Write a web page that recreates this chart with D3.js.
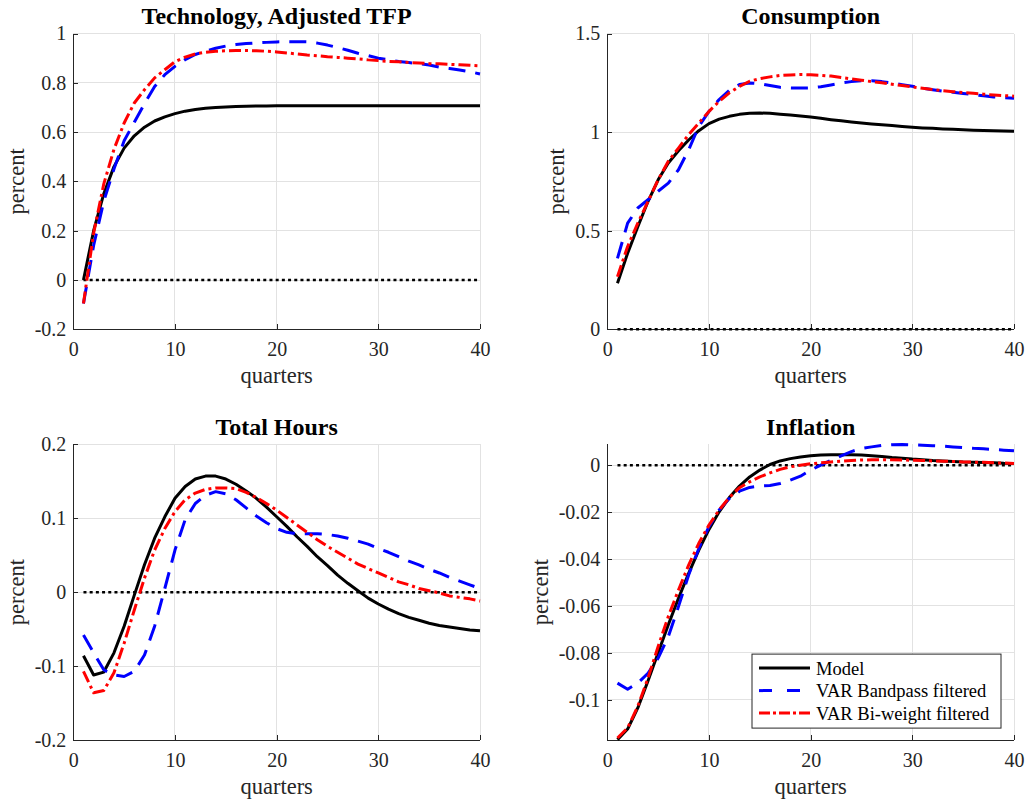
<!DOCTYPE html>
<html>
<head>
<meta charset="utf-8">
<script src="https://cdn.jsdelivr.net/npm/d3@7"></script>
<style>
  body { margin: 0; background: #fff; }
  svg { display: block; font-family: "Liberation Serif", "Times New Roman", serif; }
  .grid line { stroke: #e2e2e2; stroke-width: 1; shape-rendering: crispEdges; }
  .axis path, .axis line { stroke: #262626; stroke-width: 1; shape-rendering: crispEdges; }
  .axis text { fill: #262626; font-size: 20px; font-family: "Liberation Serif", "Times New Roman", serif; }
  .title { font-size: 24px; font-weight: bold; fill: #000; }
  .label { font-size: 22.5px; fill: #262626; }
  .zero { stroke: #000; stroke-width: 2.5; stroke-dasharray: 3, 3.2; fill: none; }
  .series { fill: none; stroke-width: 3; stroke-linejoin: round; }
  .legend text { font-size: 18.5px; fill: #000; }
</style>
</head>
<body>
<svg width="1028" height="803"></svg>
<script>
// quarters after the shock
const quarters = d3.range(1, 41);

// Technology, Adjusted TFP
const techModel = [0.0, 0.20, 0.35, 0.46, 0.535, 0.585, 0.62, 0.645, 0.662, 0.675,
  0.685, 0.692, 0.697, 0.700, 0.702, 0.704, 0.705, 0.706, 0.706, 0.707,
  0.707, 0.707, 0.707, 0.707, 0.707, 0.707, 0.707, 0.707, 0.707, 0.707,
  0.707, 0.707, 0.707, 0.707, 0.707, 0.707, 0.707, 0.707, 0.707, 0.707];
const techBandpass = [-0.095, 0.14, 0.32, 0.45, 0.565, 0.64, 0.715, 0.785, 0.833, 0.867,
  0.894, 0.915, 0.928, 0.94, 0.949, 0.955, 0.959, 0.962, 0.964, 0.966,
  0.967, 0.967, 0.966, 0.961, 0.953, 0.943, 0.932, 0.92, 0.91, 0.90,
  0.893, 0.886, 0.882, 0.878, 0.872, 0.864, 0.858, 0.852, 0.845, 0.836];
const techBiweight = [-0.095, 0.19, 0.39, 0.53, 0.637, 0.718, 0.772, 0.82, 0.853, 0.886,
  0.904, 0.917, 0.924, 0.928, 0.93, 0.931, 0.931, 0.93, 0.928, 0.925,
  0.921, 0.917, 0.913, 0.91, 0.906, 0.903, 0.90, 0.897, 0.893, 0.89,
  0.887, 0.885, 0.882, 0.88, 0.878, 0.877, 0.875, 0.873, 0.871, 0.869];

// Consumption
const consModel = [0.234, 0.386, 0.52, 0.648, 0.758, 0.843, 0.905, 0.96, 1.007, 1.043,
  1.066, 1.08, 1.09, 1.095, 1.097, 1.095, 1.091, 1.087, 1.082, 1.077,
  1.07, 1.063, 1.057, 1.051, 1.046, 1.041, 1.037, 1.033, 1.028, 1.024,
  1.021, 1.019, 1.016, 1.014, 1.012, 1.01, 1.008, 1.007, 1.005, 1.004];
const consBandpass = [0.36, 0.538, 0.615, 0.657, 0.70, 0.741, 0.809, 0.91, 1.029, 1.105,
  1.165, 1.212, 1.241, 1.249, 1.246, 1.236, 1.227, 1.224, 1.223, 1.224,
  1.23, 1.239, 1.249, 1.256, 1.26, 1.26, 1.256, 1.249, 1.24, 1.232,
  1.223, 1.215, 1.208, 1.202, 1.196, 1.19, 1.184, 1.178, 1.175, 1.172];
const consBiweight = [0.267, 0.42, 0.538, 0.648, 0.758, 0.852, 0.919, 0.987, 1.046, 1.105,
  1.156, 1.199, 1.232, 1.258, 1.271, 1.28, 1.287, 1.29, 1.292, 1.291,
  1.288, 1.284, 1.277, 1.27, 1.263, 1.256, 1.25, 1.243, 1.236, 1.229,
  1.222, 1.216, 1.21, 1.205, 1.201, 1.197, 1.192, 1.188, 1.185, 1.182];

// Total Hours
const hoursModel = [-0.086, -0.112, -0.108, -0.082, -0.046, -0.004, 0.037, 0.073, 0.102, 0.127,
  0.143, 0.153, 0.157, 0.157, 0.153, 0.146, 0.137, 0.127, 0.115, 0.102,
  0.089, 0.075, 0.062, 0.048, 0.036, 0.023, 0.012, 0.002, -0.008, -0.016,
  -0.023, -0.029, -0.034, -0.038, -0.042, -0.045, -0.047, -0.049, -0.051, -0.052];
const hoursBandpass = [-0.058, -0.082, -0.105, -0.112, -0.114, -0.107, -0.085, -0.046, 0.005, 0.057,
  0.098, 0.12, 0.131, 0.136, 0.133, 0.125, 0.114, 0.103, 0.094, 0.086,
  0.081, 0.079, 0.079, 0.079, 0.078, 0.076, 0.073, 0.069, 0.065, 0.059,
  0.054, 0.048, 0.042, 0.037, 0.031, 0.026, 0.02, 0.015, 0.01, 0.005];
const hoursBiweight = [-0.107, -0.136, -0.133, -0.109, -0.069, -0.024, 0.019, 0.057, 0.086, 0.109,
  0.125, 0.134, 0.139, 0.141, 0.141, 0.14, 0.135, 0.128, 0.12, 0.111,
  0.101, 0.091, 0.081, 0.071, 0.062, 0.054, 0.046, 0.038, 0.032, 0.026,
  0.02, 0.014, 0.01, 0.005, 0.002, -0.001, -0.005, -0.007, -0.009, -0.012];

// Inflation
const inflModel = [-0.117, -0.1125, -0.1035, -0.092, -0.080, -0.068, -0.0567, -0.0461, -0.0362, -0.0274,
  -0.0199, -0.0138, -0.0089, -0.005, -0.0021, 0.0003, 0.0018, 0.0028, 0.0035, 0.004,
  0.0043, 0.0044, 0.0044, 0.0044, 0.0043, 0.004, 0.0037, 0.0033, 0.003, 0.0026,
  0.0023, 0.002, 0.0018, 0.0016, 0.0014, 0.0013, 0.0011, 0.001, 0.0008, 0.0007];
const inflBandpass = [-0.0929, -0.0955, -0.0929, -0.0887, -0.0823, -0.0731, -0.0603, -0.0468, -0.0355, -0.0262,
  -0.0191, -0.0142, -0.0111, -0.0095, -0.0089, -0.0087, -0.0078, -0.0064, -0.0047, -0.0021,
  0.0, 0.0021, 0.004, 0.0058, 0.0071, 0.0078, 0.0084, 0.0087, 0.0088, 0.0087,
  0.0085, 0.0083, 0.0081, 0.0078, 0.0075, 0.0072, 0.007, 0.0067, 0.0064, 0.0061];
const inflBiweight = [-0.1163, -0.112, -0.1028, -0.0908, -0.0773, -0.0645, -0.0532, -0.0426, -0.0333, -0.0255,
  -0.0191, -0.0138, -0.0096, -0.0071, -0.005, -0.0033, -0.0018, -0.0007, 0.0, 0.0006,
  0.001, 0.0014, 0.0017, 0.002, 0.0022, 0.0023, 0.0023, 0.0023, 0.0022, 0.0021,
  0.002, 0.0018, 0.0017, 0.0016, 0.0014, 0.0013, 0.0012, 0.001, 0.0009, 0.0007];

// axis ticks
const xTicks = [0, 10, 20, 30, 40];
const techTicks = [-0.2, 0, 0.2, 0.4, 0.6, 0.8, 1];
const consTicks = [0, 0.5, 1, 1.5];
const hoursTicks = [-0.2, -0.1, 0, 0.1, 0.2];
const inflTicks = [-0.1, -0.08, -0.06, -0.04, -0.02, 0];

const seriesNames = ["Model", "VAR Bandpass filtered", "VAR Bi-weight filtered"];

// line styles: model, bandpass, bi-weight
const styles = [
  {color: "#000000", dash: null, legendDash: null},
  {color: "#0000ff", dash: "17,10", legendDash: "13,15"},
  {color: "#ff0000", dash: "12,4,3,4", legendDash: "11,3,3,3"}
];

const panels = [
  {title: "Technology, Adjusted TFP", data: [techModel, techBandpass, techBiweight],
    yDomain: [-0.2, 1], yTicks: techTicks, left: 73.3, top: 33.5},
  {title: "Consumption", data: [consModel, consBandpass, consBiweight],
    yDomain: [0, 1.5], yTicks: consTicks, left: 607.3, top: 33.5},
  {title: "Total Hours", data: [hoursModel, hoursBandpass, hoursBiweight],
    yDomain: [-0.2, 0.2], yTicks: hoursTicks, left: 73.3, top: 444.3},
  {title: "Inflation", data: [inflModel, inflBandpass, inflBiweight],
    yDomain: [-0.1172, 0.0089], yTicks: inflTicks, left: 607.3, top: 444.3, legend: true}
];

const svg = d3.select("svg");
const pw = 406.7, ph = 295.8;
const fmt = d => String(+d.toFixed(3));

svg.append("rect").attr("width", 1028).attr("height", 803).attr("fill", "#fff");

panels.forEach(function(p) {
  const g = svg.append("g").attr("transform", `translate(${p.left},${p.top})`);
  const x = d3.scaleLinear().domain([0, 40]).range([0, pw]);
  const y = d3.scaleLinear().domain(p.yDomain).range([ph, 0]);

  // grid
  const grid = g.append("g").attr("class", "grid");
  grid.selectAll("line.gx").data(xTicks).enter().append("line")
    .attr("x1", d => x(d)).attr("x2", d => x(d))
    .attr("y1", 0).attr("y2", ph);
  grid.selectAll("line.gy").data(p.yTicks).enter().append("line")
    .attr("x1", 0).attr("x2", pw)
    .attr("y1", d => y(d)).attr("y2", d => y(d));

  // axes, ticks pointing inward
  const xAxis = g.append("g").attr("class", "axis")
    .attr("transform", `translate(0,${ph})`)
    .call(d3.axisBottom(x).tickValues(xTicks).tickFormat(fmt)
      .tickSizeInner(-5).tickSizeOuter(0).tickPadding(12.5));
  const yAxis = g.append("g").attr("class", "axis")
    .call(d3.axisLeft(y).tickValues(p.yTicks).tickFormat(fmt)
      .tickSizeInner(-5).tickSizeOuter(0).tickPadding(7));
  xAxis.select(".domain").attr("d", `M0,0.5H${pw}`);
  yAxis.select(".domain").attr("d", `M0.5,0V${ph}`);

  // zero line
  g.append("line").attr("class", "zero")
    .attr("x1", x(1)).attr("x2", x(40))
    .attr("y1", y(0)).attr("y2", y(0));

  // series
  const line = d3.line().x((d, i) => x(quarters[i])).y(d => y(d));
  p.data.forEach(function(values, k) {
    g.append("path").attr("class", "series")
      .attr("d", line(values))
      .attr("stroke", styles[k].color)
      .attr("stroke-dasharray", styles[k].dash);
  });

  // title and labels
  g.append("text").attr("class", "title")
    .attr("x", pw / 2).attr("y", -9.5)
    .attr("text-anchor", "middle").text(p.title);
  g.append("text").attr("class", "label")
    .attr("x", pw / 2).attr("y", ph + 54)
    .attr("text-anchor", "middle").text("quarters");

  let maxW = 0;
  yAxis.selectAll(".tick text").each(function() {
    maxW = Math.max(maxW, this.getComputedTextLength());
  });
  const lx = -7 - maxW - 11;
  g.append("text").attr("class", "label")
    .attr("transform", `translate(${lx},${ph / 2}) rotate(-90)`)
    .attr("text-anchor", "middle").text("percent");

  if (p.legend) drawLegend(g);
});

function drawLegend(g) {
  const w = 249, h = 74;
  const lg = g.append("g").attr("class", "legend")
    .attr("transform", `translate(${pw - 13 - w},${ph - 12 - h})`);
  lg.append("rect").attr("width", w).attr("height", h)
    .attr("fill", "#fff").attr("stroke", "#262626").attr("stroke-width", 1);
  seriesNames.forEach(function(name, k) {
    const cy = 14 + k * 22.5;
    lg.append("line")
      .attr("x1", 7).attr("x2", 58).attr("y1", cy).attr("y2", cy)
      .attr("stroke", styles[k].color).attr("stroke-width", 3)
      .attr("stroke-dasharray", styles[k].legendDash);
    lg.append("text").attr("x", 64).attr("y", cy)
      .attr("dy", "0.35em").text(name);
  });
}
</script>
</body>
</html>
